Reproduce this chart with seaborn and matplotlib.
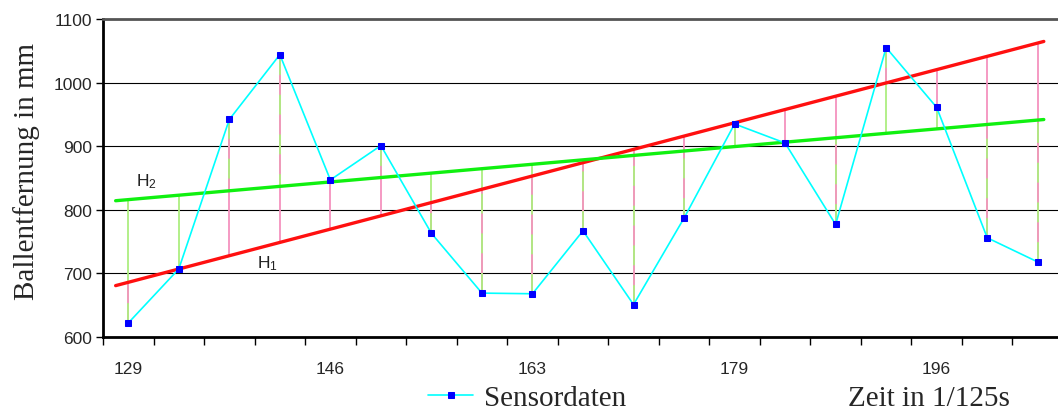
import numpy as np
import pandas as pd
import matplotlib
matplotlib.use("Agg")
import matplotlib.pyplot as plt
import seaborn as sns

# Sensor readings (ball distance in mm), one per sample
sensor_mm = [622, 707, 942, 1044, 847, 901, 763, 669, 668, 767,
             651, 787, 935, 905, 777, 1055, 961, 756, 718]
# Labels shown on every fourth sample
tick_labels = ["129", "146", "163", "179", "196"]
label_every = 4

# Straight-line hypotheses: value at the first sample and rise per sample
h1_start, h1_step = 686.0, 20.9
h2_start, h2_step = 816.0, 6.95
line_span = [-0.25, 18.12]

sns.set_theme(style="white")
plt.rcParams["font.family"] = ["Liberation Sans", "DejaVu Sans"]
plt.rcParams["mathtext.fontset"] = "custom"
plt.rcParams["mathtext.rm"] = "Liberation Sans"
plt.rcParams["mathtext.default"] = "regular"

idx = np.arange(len(sensor_mm))
h1 = h1_start + h1_step * idx
h2 = h2_start + h2_step * idx

fig = plt.figure(figsize=(10.58, 4.14), dpi=100)
ax = fig.add_axes([103 / 1058, 76 / 414, 960 / 1058, 318 / 414])

pink = "#F592BE"
lgreen = "#ADEE80"

# Residual connectors from each reading to both hypothesis lines
ax.vlines(idx, sensor_mm, h2, color=lgreen, lw=1.3, zorder=2)
ax.vlines(idx, sensor_mm, h1, color=pink, lw=1.3, zorder=2)
vals = np.array(sensor_mm, dtype=float)
for i, v in enumerate(vals):
    a, b = h1[i] - v, h2[i] - v
    if a * b > 0:
        near = v + (a if abs(a) < abs(b) else b)
        ax.plot([i, i], [v, near], color=lgreen, lw=1.3,
                dashes=(11, 11), zorder=3)

# Hypothesis lines
span = np.array(line_span)
sns.lineplot(x=span, y=h1_start + h1_step * span, ax=ax, color="#FF1010",
             lw=2.4, zorder=4, legend=False)
sns.lineplot(x=span, y=h2_start + h2_step * span, ax=ax, color="#10F010",
             lw=2.4, zorder=4, legend=False)

# Sensor series
df = pd.DataFrame({"t": idx, "mm": sensor_mm})
sns.lineplot(data=df, x="t", y="mm", ax=ax, color="#00FFFF", lw=1.2,
             marker="s", markersize=4.5, markerfacecolor="#0000FF",
             markeredgecolor="#0000FF", label="Sensordaten", zorder=6)

ax.text(0.16, 838, r"H$_{2}$", fontsize=12.5, color="#222222", zorder=7)
ax.text(2.55, 710, r"H$_{1}$", fontsize=12.5, color="#222222", zorder=7)

ax.set_xlim(-0.5, len(sensor_mm) - 0.5)
ax.set_ylim(600, 1100)
ax.set_yticks(np.arange(600, 1101, 100))
ax.grid(axis="y", color="black", lw=0.8)
ax.set_axisbelow(True)

ax.set_xticks(np.arange(-0.5, len(sensor_mm) + 0.5, 1.0))
ax.set_xticklabels([])
ax.set_xticks(idx[::label_every], minor=True)
ax.set_xticklabels(tick_labels, minor=True)
ax.tick_params(axis="x", which="major", direction="out", length=6,
               width=1, color="black", bottom=True)
ax.tick_params(axis="x", which="minor", length=0, pad=17, labelsize=12.5)
ax.tick_params(axis="y", direction="out", length=5, width=1,
               color="black", left=True, labelsize=12.5, pad=3)

for side in ["left", "bottom"]:
    ax.spines[side].set_color("black")
    ax.spines[side].set_linewidth(2)
ax.spines["top"].set_color("#555555")
ax.spines["top"].set_linewidth(2)
ax.spines["right"].set_color("#555555")
ax.spines["right"].set_linewidth(2)

ax.set_xlabel("")
ax.set_ylabel("")
fig.text(27 / 1058, 1 - 172 / 414, "Ballentfernung in mm", rotation=90,
         ha="center", va="center", fontsize=21, family="Liberation Serif")
fig.text(848 / 1058, 1 - 399 / 414, "Zeit in 1/125s", ha="left",
         va="center", fontsize=21, family="Liberation Serif")

handles, labels = ax.get_legend_handles_labels()
ax.legend(handles, labels, loc="center left",
          bbox_to_anchor=(428 / 1058, 1 - 399 / 414),
          bbox_transform=fig.transFigure, frameon=False,
          prop={"family": "Liberation Serif", "size": 21},
          handlelength=1.55, handletextpad=0.38, borderaxespad=0,
          borderpad=0)

fig.savefig("out.png", dpi=100)
